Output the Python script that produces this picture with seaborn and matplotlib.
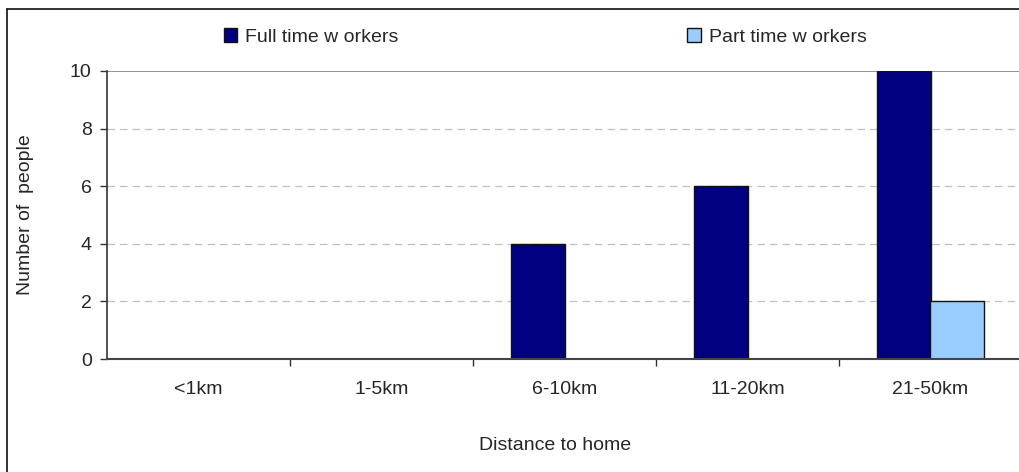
import pandas as pd
import seaborn as sns
import matplotlib.pyplot as plt
from matplotlib.patches import Patch
from matplotlib.lines import Line2D
from matplotlib.ticker import FixedLocator

# data
distances = ["<1km", "1-5km", "6-10km", "11-20km", "21-50km"]
full_time = [0, 0, 4, 6, 10]
part_time = [0, 0, 0, 0, 2]
series_names = ["Full time w orkers", "Part time w orkers"]
colors = ["#000080", "#99CCFF"]

df = pd.DataFrame({
    "distance": distances * 2,
    "people": full_time + part_time,
    "group": [series_names[0]] * len(distances) + [series_names[1]] * len(distances),
})

sns.set_style("white")
plt.rcParams["font.family"] = ["Liberation Sans", "DejaVu Sans"]

fig = plt.figure(figsize=(10.19, 4.72), dpi=100)
W, H = 1019, 472
ax = fig.add_axes([107 / W, (H - 359) / H, 912 / W, 288 / H])

sns.barplot(data=df, x="distance", y="people", hue="group", order=distances,
            hue_order=series_names, palette=colors, saturation=1, width=0.58, gap=0,
            edgecolor="#111111", linewidth=1.0, ax=ax, legend=False)

ax.set_xlim(-0.5, 4.5 - 3 / 183)
ax.set_ylim(0, 10)
ax.set_yticks(range(0, 11, 2))

# grid: dashed light lines, solid line at top
for v in [2, 4, 6, 8]:
    ax.axhline(v, color="#c0c0c0", linestyle=(0, (6, 4)), linewidth=0.9, zorder=0)
ax.axhline(10, color="#808080", linewidth=1.2, zorder=0)

for s in ["top", "right"]:
    ax.spines[s].set_visible(False)
ax.spines["left"].set_color("#333333")
ax.spines["bottom"].set_color("#444444")
ax.spines["left"].set_linewidth(1.2)
ax.spines["bottom"].set_linewidth(1.5)

ax.tick_params(axis="y", direction="out", length=5, width=1, color="#333333",
               labelsize=14, pad=6, left=True)
ax.tick_params(axis="x", which="major", length=0, labelsize=14, pad=16)
ax.xaxis.set_minor_locator(FixedLocator([0.5, 1.5, 2.5, 3.5]))
ax.tick_params(axis="x", which="minor", direction="out", length=5, width=1,
               color="#333333", bottom=True)

ax.set_xlabel("Distance to home", fontsize=14, va="center")
ax.xaxis.set_label_coords((555 - 107) / 912, -(446 - 359) / 288)
ax.set_ylabel("Number of  people", fontsize=14, va="center")
ax.yaxis.set_label_coords((26 - 107) / 912, 0.5)

handles = [Patch(facecolor=c, edgecolor="#111111", linewidth=1.0) for c in colors]
fig.legend(handles, series_names, loc="center", bbox_to_anchor=(545 / W, 1 - 37 / H),
           ncol=2, frameon=False, fontsize=14, columnspacing=14.85,
           handlelength=0.7, handleheight=0.7, handletextpad=0.4)

# outer chart border (only top and left edges are visible)
fig.add_artist(Line2D([7 / W, 1.05], [1 - 9 / H, 1 - 9 / H], transform=fig.transFigure,
                      color="#111111", linewidth=1.2))
fig.add_artist(Line2D([7 / W, 7 / W], [-0.05, 1 - 9 / H], transform=fig.transFigure,
                      color="#111111", linewidth=1.2))

fig.savefig("out.png", dpi=100)
